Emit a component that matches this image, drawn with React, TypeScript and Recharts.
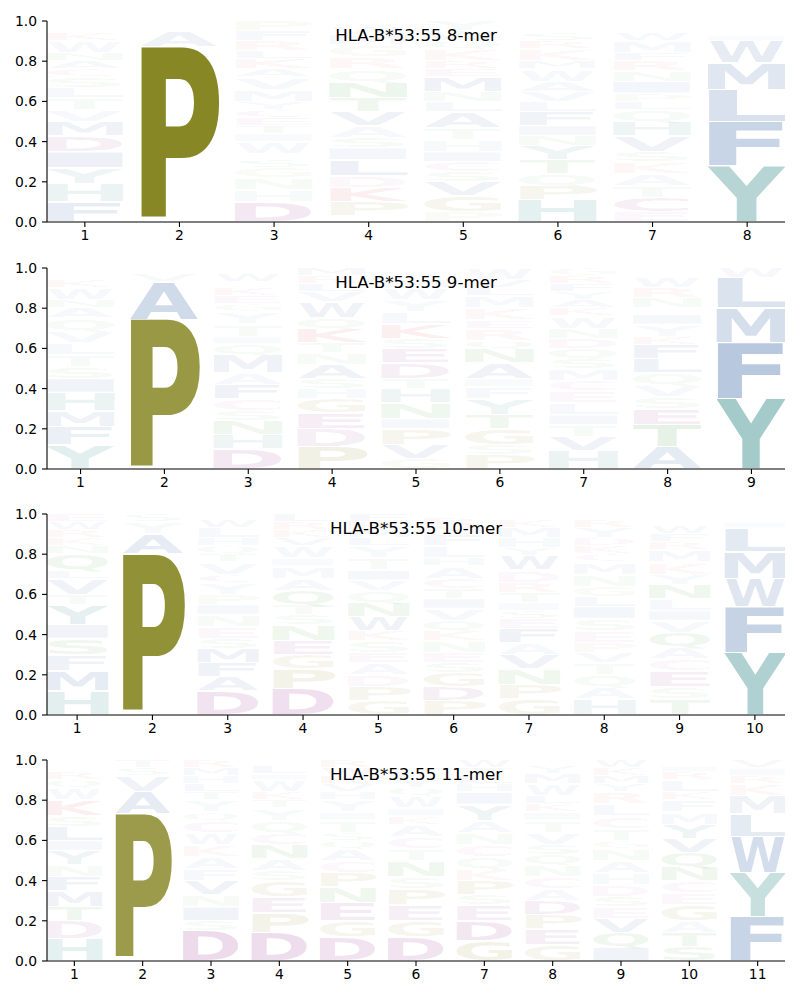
import React from 'react';
import { BarChart, Bar, XAxis, YAxis } from 'recharts';

// ---------- data ----------
const titles = ['HLA-B*53:55 8-mer', 'HLA-B*53:55 9-mer', 'HLA-B*53:55 10-mer', 'HLA-B*53:55 11-mer'];
const yTicks = [0, 0.2, 0.4, 0.6, 0.8, 1.0];

// letters per position, bottom to top
const letters8 = ['FHYIDMVTLSCANWKRE', 'GPASV', 'DHNGSQWITECYMVAKLRFP', 'EPKDLISAVTNQRGMWF', 'PGVSCIHTALNMERKQWY', 'HPQTYNIFLVAWMKRSDE', 'ECTAKSVHQLPINRFMWDG', 'YFLMWIVAK'];
const heights8 = [
  [0.10, 0.09, 0.08, 0.08, 0.08, 0.07, 0.06, 0.06, 0.05, 0.05, 0.04, 0.04, 0.04, 0.06, 0.04, 0.03, 0.03],
  [0.02, 0.85, 0.08, 0.03, 0.02],
  [0.10, 0.06, 0.06, 0.05, 0.04, 0.03, 0.06, 0.04, 0.04, 0.04, 0.04, 0.04, 0.06, 0.06, 0.04, 0.05, 0.04, 0.05, 0.05, 0.05],
  [0.03, 0.07, 0.07, 0.06, 0.08, 0.06, 0.05, 0.06, 0.07, 0.07, 0.08, 0.06, 0.06, 0.06, 0.05, 0.04, 0.03],
  [0.05, 0.08, 0.07, 0.05, 0.05, 0.05, 0.06, 0.06, 0.08, 0.05, 0.05, 0.07, 0.04, 0.04, 0.06, 0.04, 0.05, 0.05],
  [0.11, 0.07, 0.06, 0.07, 0.07, 0.05, 0.05, 0.07, 0.05, 0.05, 0.05, 0.06, 0.04, 0.06, 0.04, 0.04, 0.03, 0.03],
  [0.05, 0.07, 0.06, 0.06, 0.06, 0.05, 0.08, 0.07, 0.06, 0.04, 0.04, 0.06, 0.05, 0.05, 0.04, 0.06, 0.04, 0.03, 0.03],
  [0.28, 0.22, 0.16, 0.13, 0.11, 0.03, 0.03, 0.02, 0.02],
];

const letters9 = ['YFMHISTLVQANWKRE', 'GPAVS', 'DHNSCFAMQITYGEKLWR', 'PDEGHSANTKQWVLRM', 'GVPINHTDESKLYWMQR', 'PSGTYFIANQREKMLVW', 'HVTILECMSQDNWKAYFRG', 'ATESVQLFKYIMNRWHD', 'YFMLW'];
const heights9 = [
  [0.12, 0.09, 0.08, 0.09, 0.07, 0.06, 0.06, 0.06, 0.06, 0.06, 0.05, 0.04, 0.06, 0.04, 0.03, 0.03],
  [0.01, 0.73, 0.19, 0.04, 0.03],
  [0.10, 0.07, 0.07, 0.05, 0.06, 0.07, 0.06, 0.09, 0.05, 0.04, 0.06, 0.06, 0.04, 0.04, 0.04, 0.03, 0.04, 0.03],
  [0.11, 0.09, 0.08, 0.07, 0.05, 0.05, 0.07, 0.06, 0.05, 0.07, 0.05, 0.08, 0.05, 0.04, 0.04, 0.04],
  [0.05, 0.07, 0.08, 0.05, 0.08, 0.07, 0.05, 0.08, 0.07, 0.05, 0.07, 0.06, 0.06, 0.06, 0.04, 0.03, 0.03],
  [0.07, 0.05, 0.08, 0.07, 0.08, 0.06, 0.04, 0.08, 0.07, 0.04, 0.06, 0.04, 0.06, 0.06, 0.04, 0.04, 0.06],
  [0.09, 0.07, 0.06, 0.05, 0.06, 0.06, 0.05, 0.06, 0.05, 0.05, 0.05, 0.05, 0.06, 0.04, 0.04, 0.04, 0.04, 0.04, 0.04],
  [0.11, 0.11, 0.08, 0.06, 0.06, 0.06, 0.07, 0.07, 0.04, 0.06, 0.05, 0.03, 0.05, 0.05, 0.05, 0.03, 0.02],
  [0.35, 0.28, 0.17, 0.15, 0.05],
];

const letters10 = ['HMFSIYTVLQNKRWE', 'GPAYS', 'DAFMSENIPYCVTQHLWK', 'DPGENSTQAMIWVKRL', 'GPDAESKWNQVITYLMRF', 'PDGSENKQVITCAHLFMRW', 'GPNVAFESITRDWYHMKL', 'HAQTVPESILGNMCKDYRW', 'TSECAQVILNYKMRFWHG', 'YFWMLIVK'];
const heights10 = [
  [0.12, 0.10, 0.08, 0.08, 0.07, 0.10, 0.05, 0.08, 0.04, 0.08, 0.04, 0.04, 0.04, 0.04, 0.04],
  [0.02, 0.78, 0.10, 0.06, 0.04],
  [0.12, 0.07, 0.07, 0.07, 0.05, 0.06, 0.06, 0.05, 0.05, 0.06, 0.04, 0.06, 0.04, 0.04, 0.04, 0.05, 0.04, 0.03],
  [0.13, 0.10, 0.07, 0.07, 0.08, 0.05, 0.05, 0.07, 0.06, 0.06, 0.04, 0.06, 0.04, 0.04, 0.04, 0.04],
  [0.07, 0.07, 0.06, 0.06, 0.05, 0.06, 0.05, 0.07, 0.07, 0.06, 0.05, 0.05, 0.06, 0.06, 0.04, 0.04, 0.04, 0.04],
  [0.07, 0.07, 0.07, 0.05, 0.05, 0.06, 0.05, 0.05, 0.06, 0.05, 0.05, 0.05, 0.06, 0.04, 0.06, 0.06, 0.04, 0.04, 0.02],
  [0.08, 0.07, 0.08, 0.07, 0.06, 0.07, 0.05, 0.04, 0.04, 0.05, 0.05, 0.06, 0.07, 0.04, 0.05, 0.05, 0.04, 0.03],
  [0.08, 0.06, 0.06, 0.06, 0.05, 0.05, 0.06, 0.06, 0.06, 0.05, 0.05, 0.06, 0.06, 0.04, 0.04, 0.04, 0.05, 0.04, 0.03],
  [0.08, 0.06, 0.08, 0.06, 0.06, 0.07, 0.06, 0.05, 0.06, 0.07, 0.05, 0.06, 0.06, 0.04, 0.04, 0.04, 0.03, 0.03],
  [0.31, 0.23, 0.14, 0.13, 0.12, 0.03, 0.02, 0.02],
];

const letters11 = ['HDTMFNYILSKWQREV', 'GPAVST', 'DSINVFAKWCQYTLHMR', 'DPEGSANCQYTKWILR', 'DGENPCAQSTIYHVKWR', 'DGEPSNTCAKIWQYLVM', 'GDESPKQCNAYIHLTW', 'GEPDACNQSVTIKLWMYF', 'IQVESDHANGTCLRYMKW', 'STAGECNQVYMFKLRIH', 'FYWLMKRIV'];
const heights11 = [
  [0.11, 0.09, 0.07, 0.08, 0.07, 0.06, 0.07, 0.05, 0.07, 0.05, 0.08, 0.06, 0.04, 0.04, 0.03, 0.03],
  [0.02, 0.71, 0.11, 0.08, 0.04, 0.04],
  [0.15, 0.05, 0.07, 0.06, 0.07, 0.06, 0.06, 0.06, 0.06, 0.06, 0.04, 0.06, 0.04, 0.04, 0.04, 0.04, 0.04],
  [0.14, 0.10, 0.08, 0.08, 0.05, 0.06, 0.07, 0.06, 0.06, 0.06, 0.04, 0.04, 0.06, 0.03, 0.04, 0.03],
  [0.12, 0.08, 0.09, 0.08, 0.07, 0.06, 0.06, 0.04, 0.04, 0.06, 0.04, 0.06, 0.04, 0.04, 0.04, 0.04, 0.04],
  [0.12, 0.08, 0.08, 0.08, 0.06, 0.08, 0.06, 0.06, 0.06, 0.04, 0.04, 0.06, 0.04, 0.04, 0.04, 0.03, 0.03],
  [0.10, 0.10, 0.08, 0.05, 0.07, 0.06, 0.06, 0.06, 0.06, 0.06, 0.08, 0.06, 0.04, 0.04, 0.04, 0.04],
  [0.08, 0.08, 0.07, 0.07, 0.06, 0.06, 0.06, 0.05, 0.05, 0.06, 0.06, 0.04, 0.04, 0.04, 0.06, 0.05, 0.04, 0.03],
  [0.07, 0.07, 0.07, 0.06, 0.05, 0.06, 0.06, 0.06, 0.06, 0.04, 0.06, 0.06, 0.06, 0.06, 0.04, 0.04, 0.04, 0.04],
  [0.07, 0.07, 0.06, 0.08, 0.06, 0.06, 0.07, 0.07, 0.07, 0.07, 0.06, 0.06, 0.04, 0.06, 0.04, 0.03, 0.03],
  [0.22, 0.22, 0.18, 0.11, 0.09, 0.06, 0.04, 0.04, 0.04],
];

// ---------- styling ----------
const COLORS: Record<string, string> = {
  P: 'rgb(118,118,8)', G: 'rgb(118,118,8)',
  Y: 'rgb(0,105,105)', H: 'rgb(0,105,105)',
  F: 'rgb(0,60,140)', W: 'rgb(0,60,140)', L: 'rgb(0,60,140)', M: 'rgb(0,60,140)',
  A: 'rgb(0,60,140)', V: 'rgb(0,60,140)', I: 'rgb(0,60,140)',
  D: 'rgb(128,0,120)', E: 'rgb(128,0,120)', C: 'rgb(128,0,120)',
  K: 'rgb(200,0,0)', R: 'rgb(200,0,0)',
  N: 'rgb(0,128,0)', Q: 'rgb(0,128,0)', S: 'rgb(0,128,0)', T: 'rgb(0,128,0)',
};
// [left bearing fraction, ink fraction] of the glyph advance (DejaVu Sans Bold, approx)
const METRICS: Record<string, [number, number]> = {
  A: [0.01, 0.98], C: [0.07, 0.86], D: [0.12, 0.82], E: [0.13, 0.77], F: [0.13, 0.77],
  G: [0.07, 0.84], H: [0.12, 0.76], I: [0.25, 0.5], K: [0.12, 0.87], L: [0.14, 0.8],
  M: [0.1, 0.8], N: [0.12, 0.76], P: [0.12, 0.8], Q: [0.07, 0.87], R: [0.12, 0.86],
  S: [0.08, 0.83], T: [0.01, 0.98], V: [0.01, 0.98], W: [0.01, 0.98], Y: [0.0, 1.0],
};

const FONT = '"DejaVu Sans", sans-serif';
const PLOT_W = 738;

function makeShape(letters: string[], k: number) {
  return (props: any) => {
    const { x, y, width, height, payload } = props;
    if (!payload || !(height > 0.3)) return <g />;
    const ch = letters[payload.pos - 1]?.[k];
    if (!ch) return <g />;
    const value = payload['h' + k] as number;
    const pad = height > 6 ? 0.8 : height * 0.1;
    const h = height - 2 * pad;
    const [lb, ink] = METRICS[ch] || [0.08, 0.84];
    const total = width / ink;
    const x0 = x - lb * total;
    const alpha = Math.min(1, Math.max(0.02, value * 1.05 - 0.015));
    return (
      <text
        x={x0}
        y={y + height - pad}
        fontSize={h / 0.729}
        textLength={total}
        lengthAdjust="spacingAndGlyphs"
        fontFamily={FONT}
        fontWeight="bold"
        fill={COLORS[ch] || '#888'}
        fillOpacity={alpha}
      >
        {ch}
      </text>
    );
  };
}

function Logo({ title, letters, heights, top }: { title: string; letters: string[]; heights: number[][]; top: number }) {
  const n = letters.length;
  const positions = letters.map((_, i) => i + 1);
  const data = positions.map((p, i) => {
    const row: any = { pos: p };
    heights[i].forEach((h, k) => { row['h' + k] = h; });
    return row;
  });
  const maxLayers = Math.max(...heights.map((h) => h.length));
  const layers = Array.from({ length: maxLayers }, (_, k) => k);
  const barSize = (PLOT_W / (n - 0.2)) * 0.8;
  return (
    <div style={{ position: 'absolute', left: 0, top, width: 800, height: 246 }}>
      <BarChart width={800} height={246} data={data} margin={{ top: 21, right: 15, left: 0, bottom: 0 }} barSize={barSize}>
        <XAxis
          dataKey="pos"
          type="number"
          domain={[0.6, n + 0.4]}
          ticks={positions}
          allowDataOverflow
          height={24}
          tickSize={5}
          tickMargin={3}
          axisLine={{ stroke: '#000', strokeWidth: 1.1 }}
          tickLine={{ stroke: '#000', strokeWidth: 1.1 }}
          tick={{ fill: '#000', fontSize: 13.9, fontFamily: FONT }}
        />
        <YAxis
          type="number"
          domain={[0, 1]}
          ticks={yTicks}
          allowDataOverflow
          width={47}
          tickSize={5}
          tickMargin={5}
          tickFormatter={(v: number) => v.toFixed(1)}
          axisLine={{ stroke: '#000', strokeWidth: 1.1 }}
          tickLine={{ stroke: '#000', strokeWidth: 1.1 }}
          tick={{ fill: '#000', fontSize: 13.9, fontFamily: FONT }}
        />
        {layers.map((k) => (
          <Bar key={k} dataKey={'h' + k} stackId="s" isAnimationActive={false} shape={makeShape(letters, k)} />
        ))}
      </BarChart>
      <div
        style={{
          position: 'absolute',
          left: 47,
          width: PLOT_W,
          top: 26,
          textAlign: 'center',
          fontFamily: FONT,
          fontSize: 16.67,
          lineHeight: 'normal',
          color: '#000',
          pointerEvents: 'none',
        }}
      >
        {title}
      </div>
    </div>
  );
}

export default function App() {
  return (
    <div style={{ position: 'absolute', left: 0, top: 0, width: 800, height: 1000, background: '#fff' }}>
      <Logo title={titles[0]} letters={letters8} heights={heights8} top={0} />
      <Logo title={titles[1]} letters={letters9} heights={heights9} top={247} />
      <Logo title={titles[2]} letters={letters10} heights={heights10} top={493} />
      <Logo title={titles[3]} letters={letters11} heights={heights11} top={739} />
    </div>
  );
}
